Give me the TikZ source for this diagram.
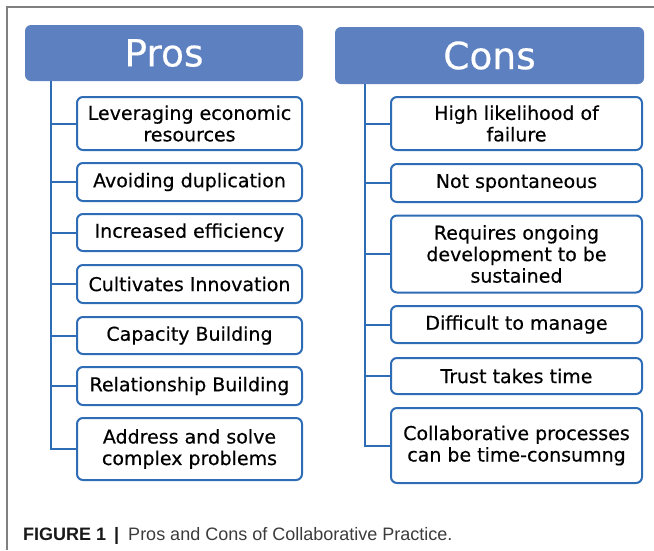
\documentclass[tikz,border=0pt]{standalone}
\usepackage{fontspec}
\setmainfont{DejaVu Sans}
\newfontfamily\capfont{Liberation Sans}
\newfontfamily\boxfamily[FakeBold=0.4]{DejaVu Sans}
\definecolor{headc}{RGB}{93,128,192}
\definecolor{bordc}{RGB}{46,108,182}
\definecolor{framec}{RGB}{128,128,128}
\definecolor{captxt}{RGB}{60,60,60}
\tikzset{
  itembox/.style={draw=bordc, line width=2pt, rounded corners=6pt, fill=white,
    align=center, inner sep=0pt, text=black,
    font=\boxfamily\fontsize{19}{21.5}\selectfont},
  headbox/.style={fill=headc, draw=none, rounded corners=6pt, text=white,
    inner sep=0pt, font=\boxfamily\fontsize{37.5}{40}\selectfont},
  conn/.style={draw=bordc, line width=2pt}
}
\begin{document}
\begin{tikzpicture}[x=1pt,y=-1pt]
\useasboundingbox (0,0) rectangle (654,550);
\fill[white] (0,0) rectangle (654,550);
\draw[framec, line width=1.2pt] (7,550) -- (7,7) -- (654,7);

% Pros
\node[headbox, minimum width=278pt, minimum height=56pt] (pros) at (164,53) {Pros};
\coordinate (ptop) at (51,81);
\node[itembox, minimum width=225pt, minimum height=53pt] (p1) at (189.5,123.5) {Leveraging economic\\resources};
\node[itembox, minimum width=225pt, minimum height=38pt] (p2) at (189.5,182) {Avoiding duplication};
\node[itembox, minimum width=225pt, minimum height=37pt] (p3) at (189.5,232.5) {Increased efficiency};
\node[itembox, minimum width=225pt, minimum height=38pt] (p4) at (189.5,284) {Cultivates Innovation};
\node[itembox, minimum width=225pt, minimum height=37pt] (p5) at (189.5,335.5) {Capacity Building};
\node[itembox, minimum width=225pt, minimum height=38pt] (p6) at (189.5,386) {Relationship Building};
\node[itembox, minimum width=225pt, minimum height=62pt] (p7) at (189.5,449) {Address and solve\\complex problems};
\draw[conn] (ptop) |- (p7.west);
\foreach \i in {1,...,6} {\draw[conn] (ptop |- p\i.west) -- (p\i.west);}

% Cons
\node[headbox, minimum width=309pt, minimum height=57pt] (cons) at (489.5,55.5) {Cons};
\coordinate (ctop) at (365,84);
\node[itembox, minimum width=251pt, minimum height=53pt] (c1) at (516.5,123.5) {High likelihood of\\failure};
\node[itembox, minimum width=251pt, minimum height=38pt] (c2) at (516.5,183) {Not spontaneous};
\node[itembox, minimum width=251pt, minimum height=77pt] (c3) at (516.5,254) {Requires ongoing\\development to be\\sustained};
\node[itembox, minimum width=251pt, minimum height=37pt] (c4) at (516.5,324.5) {Difficult to manage};
\node[itembox, minimum width=251pt, minimum height=36pt] (c5) at (516.5,376) {Trust takes time};
\node[itembox, minimum width=251pt, minimum height=75pt] (c6) at (516.5,445.5) {Collaborative processes\\can be time-consumng};
\draw[conn] (ctop) |- (c6.west);
\foreach \i in {1,...,5} {\draw[conn] (ctop |- c\i.west) -- (c\i.west);}

% caption
\node[anchor=base west, inner sep=0pt, font=\capfont\fontsize{18}{20}\selectfont, text=captxt] (cap) at (23,540)
  {{\bfseries\color{black!90}FIGURE 1}\hspace{8pt}{\bfseries\color{black!90}|}\hspace{9pt}Pros and Cons of Collaborative Practice.};
\end{tikzpicture}
\end{document}
